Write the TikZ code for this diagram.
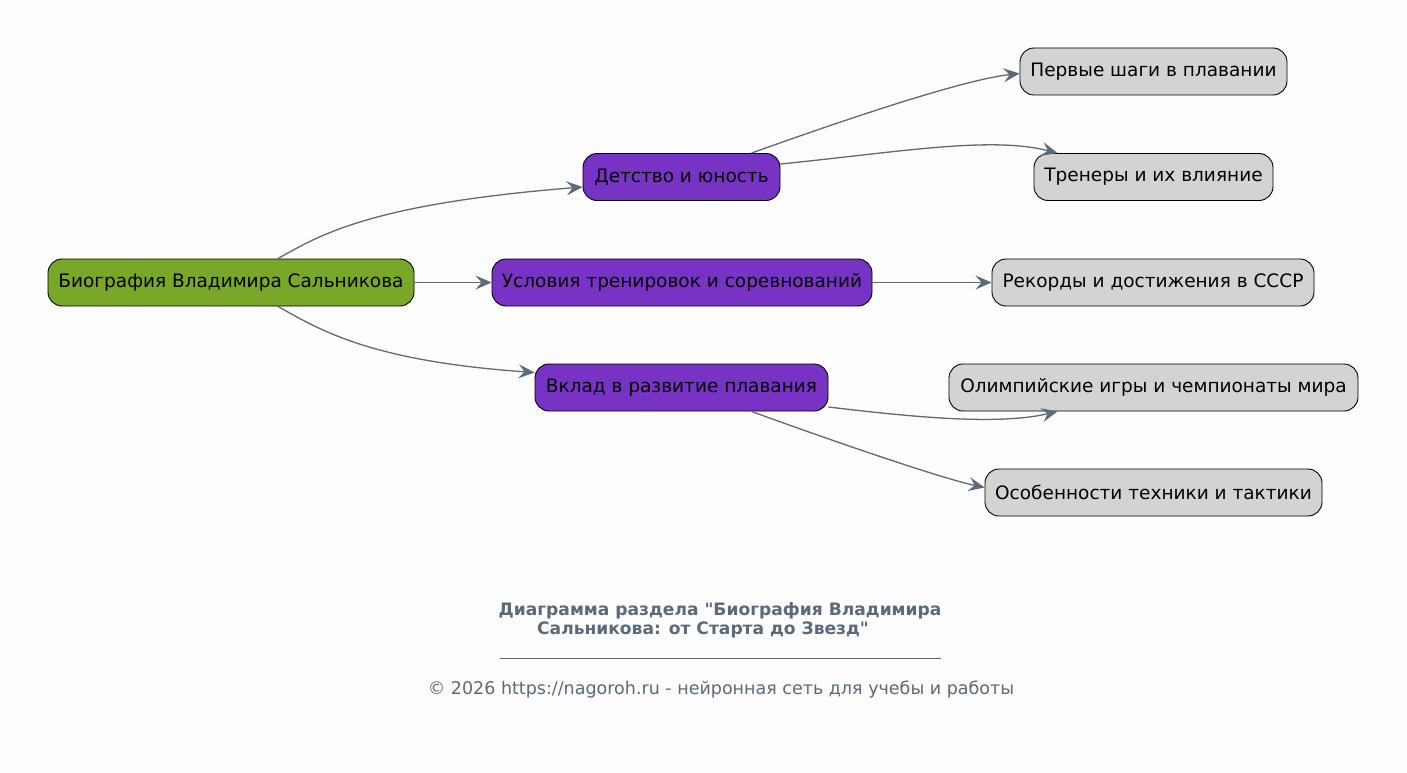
\documentclass[tikz,border=0pt]{standalone}
\usepackage{fontspec}
\setmainfont{DejaVu Sans}
\newfontfamily\plainfont{DejaVu Sans}
\usetikzlibrary{arrows.meta}
\definecolor{bg}{RGB}{253,253,253}
\definecolor{rootc}{RGB}{121,168,41}
\definecolor{midc}{RGB}{119,51,196}
\definecolor{leafc}{RGB}{211,211,211}
\definecolor{edgec}{RGB}{92,107,122}
\definecolor{titlec}{RGB}{90,106,122}
\tikzset{
  box/.style={draw=black, line width=0.9pt, rounded corners=14pt, minimum height=47pt, inner sep=0pt, font=\fontsize{18.5}{22}\selectfont, text=black},
  rootbox/.style={box, fill=rootc},
  midbox/.style={box, fill=midc},
  leafbox/.style={box, fill=leafc},
  conn/.style={draw=edgec, line width=1.3pt, -{Stealth[length=16pt, width=14pt, inset=6pt]}},
}
\begin{document}
\begin{tikzpicture}[x=1pt, y=-1pt]
\useasboundingbox[fill=bg] (0,0) rectangle (1407,773);
\node[rootbox, minimum width=366pt] (root) at (231,282.5) {Биография Владимира Сальникова};
\node[midbox, minimum width=197pt] (det) at (681.5,177) {Детство и юность};
\node[midbox, minimum width=380pt] (usl) at (682,282.5) {Условия тренировок и соревнований};
\node[midbox, minimum width=293pt] (vkl) at (681.5,387.5) {Вклад в развитие плавания};
\node[leafbox, minimum width=267pt] (per) at (1153.5,71.5) {Первые шаги в плавании};
\node[leafbox, minimum width=239pt] (tre) at (1153.5,177) {Тренеры и их влияние};
\node[leafbox, minimum width=322pt] (rek) at (1153,282.5) {Рекорды и достижения в СССР};
\node[leafbox, minimum width=409pt] (oli) at (1153.5,387.5) {Олимпийские игры и чемпионаты мира};
\node[leafbox, minimum width=337pt] (oso) at (1153.5,492.5) {Особенности техники и тактики};

\draw[conn] ([xshift=47pt]root.north) .. controls (320,235) and (370,204) .. ([yshift=-10pt]det.west);
\draw[conn] (root.east) -- (usl.west);
\draw[conn] ([xshift=47pt]root.south) .. controls (320,330) and (370,361) .. ([yshift=15pt]vkl.west);
\draw[conn] ([xshift=70pt]det.north) .. controls (830,125) and (960,80) .. ([yshift=-2pt]per.west);
\draw[conn] ([yshift=13pt]det.east) .. controls (900,152) and (990,136) .. ([xshift=-96pt]tre.north);
\draw[conn] (usl.east) -- (rek.west);
\draw[conn] ([yshift=-19.5pt]vkl.east) .. controls (920,418) and (1000,425) .. ([xshift=-96pt]oli.south);
\draw[conn] ([xshift=70pt]vkl.south) .. controls (830,440) and (940,478) .. ([yshift=5pt]oso.west);

\node[font=\plainfont\bfseries\fontsize{17.1}{19}\selectfont, text=titlec, align=center] (title) at (720,620) {Диаграмма раздела "Биография Владимира\\Сальникова: от Старта до Звезд"\hspace*{34pt}};
\coordinate (l1) at (500,658);
\coordinate (l2) at (941,658);
\draw[titlec, line width=0.6pt] (l1) -- (l2);
\node[font=\fontsize{17.5}{20}\selectfont, text=titlec] (foot) at (721,690) {© 2026 https://nagoroh.ru - нейронная сеть для учебы и работы};
\end{tikzpicture}
\end{document}
